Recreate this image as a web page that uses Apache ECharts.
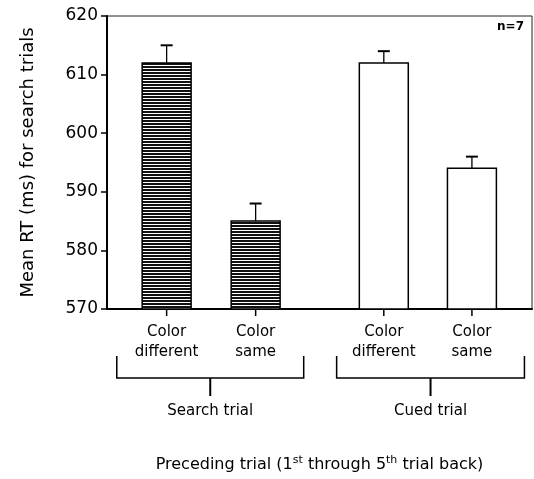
<!DOCTYPE html>
<html><head><meta charset="utf-8">
<script src="https://cdn.jsdelivr.net/npm/echarts@6/dist/echarts.min.js"></script>
<style>html,body{margin:0;padding:0;background:#fff}#c{width:534px;height:479px}</style>
</head><body><div id="c"></div>
<script>
const categories = ['Color\ndifferent', 'Color\nsame', 'Color\ndifferent', 'Color\nsame'];
const positions = [0.67, 1.67, 3.11, 4.1];
const meanRT = [612, 585, 612, 594];
const errorTop = [615, 588, 614, 596];
const groupNames = ['Search trial', 'Cued trial'];
const groupStart = [0.11, 2.58];
const groupEnd = [2.21, 4.69];
const yMin = 570, yMax = 620, yStep = 10;

const FONT = '"DejaVu Sans", Arial, Helvetica, sans-serif';

// striped fill pattern
const pc = document.createElement('canvas');
pc.width = 8; pc.height = 3;
const pctx = pc.getContext('2d');
pctx.fillStyle = '#fff'; pctx.fillRect(0, 0, 8, 3);
pctx.fillStyle = '#111'; pctx.fillRect(0, 0, 8, 2);
const stripe = { image: pc, repeat: 'repeat' };

const barData = positions.map((p, i) => [p, meanRT[i], errorTop[i], categories[i]]);
const groupData = groupNames.map((g, i) => [groupStart[i], groupEnd[i], g]);

const chart = echarts.init(document.getElementById('c'), null, { renderer: 'canvas', width: 534, height: 479 });
chart.setOption({
  animation: false,
  textStyle: { fontFamily: FONT },
  grid: { left: 107, width: 425, top: 16, height: 299, show: true, borderColor: '#222', borderWidth: 1 },
  xAxis: {
    type: 'value', min: 0, max: 4.775,
    axisLine: { show: true, lineStyle: { color: '#000', width: 2 } },
    axisTick: { show: false }, axisLabel: { show: false }, splitLine: { show: false },
    name: '{a|Preceding trial (1}{s|st}{a| through 5}{s|th}{a| trial back)}',
    nameLocation: 'middle', nameGap: 146,
    nameTextStyle: {
      rich: {
        a: { fontFamily: FONT, fontSize: 16, color: '#000', verticalAlign: 'bottom', lineHeight: 18 },
        s: { fontFamily: FONT, fontSize: 11, color: '#000', verticalAlign: 'top', lineHeight: 18, padding: [0, 0, 8, 0] }
      }
    }
  },
  yAxis: {
    type: 'value', min: yMin, max: yMax, interval: yStep,
    axisLine: { show: true, lineStyle: { color: '#000', width: 2 } },
    axisTick: { show: true, length: 6, lineStyle: { color: '#000', width: 1.5 } },
    axisLabel: { color: '#000', fontSize: 17, fontFamily: FONT, margin: 9 },
    splitLine: { show: false },
    name: 'Mean RT (ms) for search trials',
    nameLocation: 'middle', nameGap: 70,
    nameTextStyle: { color: '#000', fontSize: 18, fontFamily: FONT }
  },
  graphic: [{
    type: 'text', right: 10, top: 21,
    style: { text: 'n=7', fill: '#000', font: 'bold 12px ' + FONT }
  }],
  series: [{
    type: 'custom', clip: false, data: barData,
    encode: { x: 0, y: 1 },
    renderItem: function (params, api) {
      const i = params.dataIndex;
      const x = api.value(0), v = api.value(1), e = api.value(2);
      const base = api.coord([x, yMin]);
      const top = api.coord([x, v]);
      const et = api.coord([x, e]);
      const w = api.size([0.55, 0])[0];
      return {
        type: 'group', children: [
          { type: 'rect', shape: { x: base[0] - w / 2, y: top[1], width: w, height: base[1] - top[1] },
            style: { fill: i < 2 ? stripe : '#fff', stroke: '#000', lineWidth: 1.5 } },
          { type: 'line', shape: { x1: top[0], y1: top[1], x2: et[0], y2: et[1] }, style: { stroke: '#000', lineWidth: 1.3 } },
          { type: 'line', shape: { x1: et[0] - 6, y1: et[1], x2: et[0] + 6, y2: et[1] }, style: { stroke: '#000', lineWidth: 2 } },
          { type: 'line', shape: { x1: base[0], y1: base[1], x2: base[0], y2: base[1] + 7 }, style: { stroke: '#000', lineWidth: 1.5 } },
          { type: 'text', x: base[0], y: base[1] + 13,
            style: { text: barData[i][3], fill: '#000', font: '15px ' + FONT, align: 'center', verticalAlign: 'top', lineHeight: 20 } }
        ]
      };
    }
  }, {
    type: 'custom', clip: false, data: groupData,
    encode: { x: [0, 1] },
    renderItem: function (params, api) {
      const s = api.coord([api.value(0), yMin]);
      const e = api.coord([api.value(1), yMin]);
      const y0 = s[1] + 47, y1 = s[1] + 69;
      const cx = (s[0] + e[0]) / 2;
      return {
        type: 'group', children: [
          { type: 'polyline', shape: { points: [[s[0], y0], [s[0], y1], [e[0], y1], [e[0], y0]] },
            style: { stroke: '#000', lineWidth: 1.5, fill: null } },
          { type: 'line', shape: { x1: cx, y1: y1, x2: cx, y2: y1 + 18 }, style: { stroke: '#000', lineWidth: 2 } },
          { type: 'text', x: cx, y: y1 + 33,
            style: { text: groupData[params.dataIndex][2], fill: '#000', font: '15px ' + FONT, align: 'center', verticalAlign: 'middle' } }
        ]
      };
    }
  }]
});
</script></body></html>
